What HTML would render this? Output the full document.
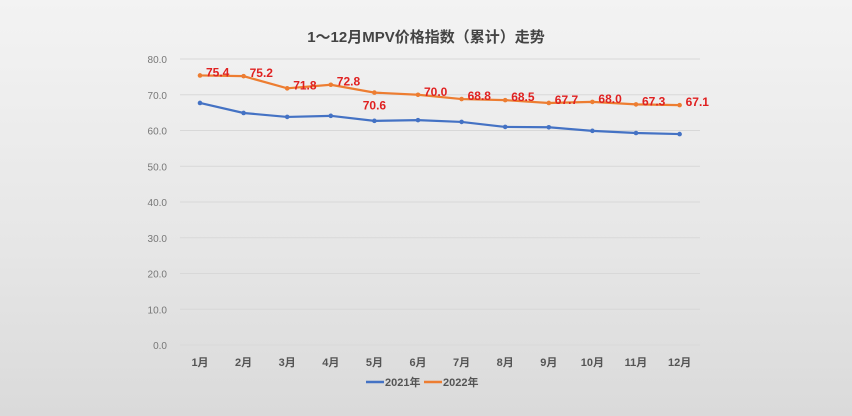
<!DOCTYPE html>
<html><head><meta charset="utf-8"><style>
html,body{margin:0;width:852px;height:416px;overflow:hidden}
html{background:#e4e4e4}
body{background:linear-gradient(180deg,#f3f3f3 0%,#e6e6e6 60%,#dadada 100%);font-family:"Liberation Sans","Noto Sans CJK SC",sans-serif}
svg{display:block}
</style></head><body>
<svg id="c" width="852" height="416" font-family="Liberation Sans, Noto Sans CJK SC, sans-serif">
<text x="426" y="42" text-anchor="middle" font-size="15" font-weight="bold" fill="#444">1～12月MPV价格指数（累计）走势</text>
</svg>
<script>
const categories=["1月","2月","3月","4月","5月","6月","7月","8月","9月","10月","11月","12月"];
const s2021=[67.7,64.9,63.8,64.1,62.7,62.9,62.4,61.0,60.9,59.9,59.3,59.0];
const s2022=[75.4,75.2,71.8,72.8,70.6,70.0,68.8,68.5,67.7,68.0,67.3,67.1];
const yTicks=[0,10,20,30,40,50,60,70,80];
const svg=document.getElementById('c');const NS='http://www.w3.org/2000/svg';
const x0=200,dx=43.6,yb=345,k=3.575;
const X=i=>x0+i*dx,Y=v=>yb-v*k;
function mk(t,a){const e=document.createElementNS(NS,t);for(const n in a)e.setAttribute(n,a[n]);svg.appendChild(e);return e;}
yTicks.forEach(v=>{
const g=mk('line',{x1:180,x2:700,y1:Y(v),y2:Y(v),stroke:'#d8d8d8','stroke-width':1});


const t=mk('text',{x:167,y:Y(v)+4,'text-anchor':'end','font-size':10,fill:'#777'});t.textContent=v.toFixed(1);


});
categories.forEach((c,i)=>{const t=mk('text',{x:X(i),y:366,'text-anchor':'middle','font-size':11,'font-weight':'bold',fill:'#555'});t.textContent=c;

});
function series(d,col,name){
const p=mk('polyline',{points:d.map((v,i)=>X(i)+','+Y(v)).join(' '),fill:'none',stroke:col,'stroke-width':2.2});


d.forEach((v,i)=>{const c=mk('circle',{cx:X(i),cy:Y(v),r:2.3,fill:col});

});}
series(s2021,'#4472c4','line-2021');
series(s2022,'#ed7d31','line-2022');
s2022.forEach((v,i)=>{const below=i===4;const t=mk('text',{x:below?X(i):X(i)+6,y:below?Y(v)+17:Y(v)+1,'font-size':12,'font-weight':'bold',fill:'#e02020','text-anchor':below?'middle':'start'});
t.textContent=v.toFixed(1);

});
[['#4472c4','2021年',366],['#ed7d31','2022年',424]].forEach(([c,l,x])=>{
const ln=mk('line',{x1:x,x2:x+18,y1:382,y2:382,stroke:c,'stroke-width':2.5});


const t=mk('text',{x:x+19,y:386,'font-size':11,'font-weight':'bold',fill:'#555'});t.textContent=l;

});
</script>
</body></html>
